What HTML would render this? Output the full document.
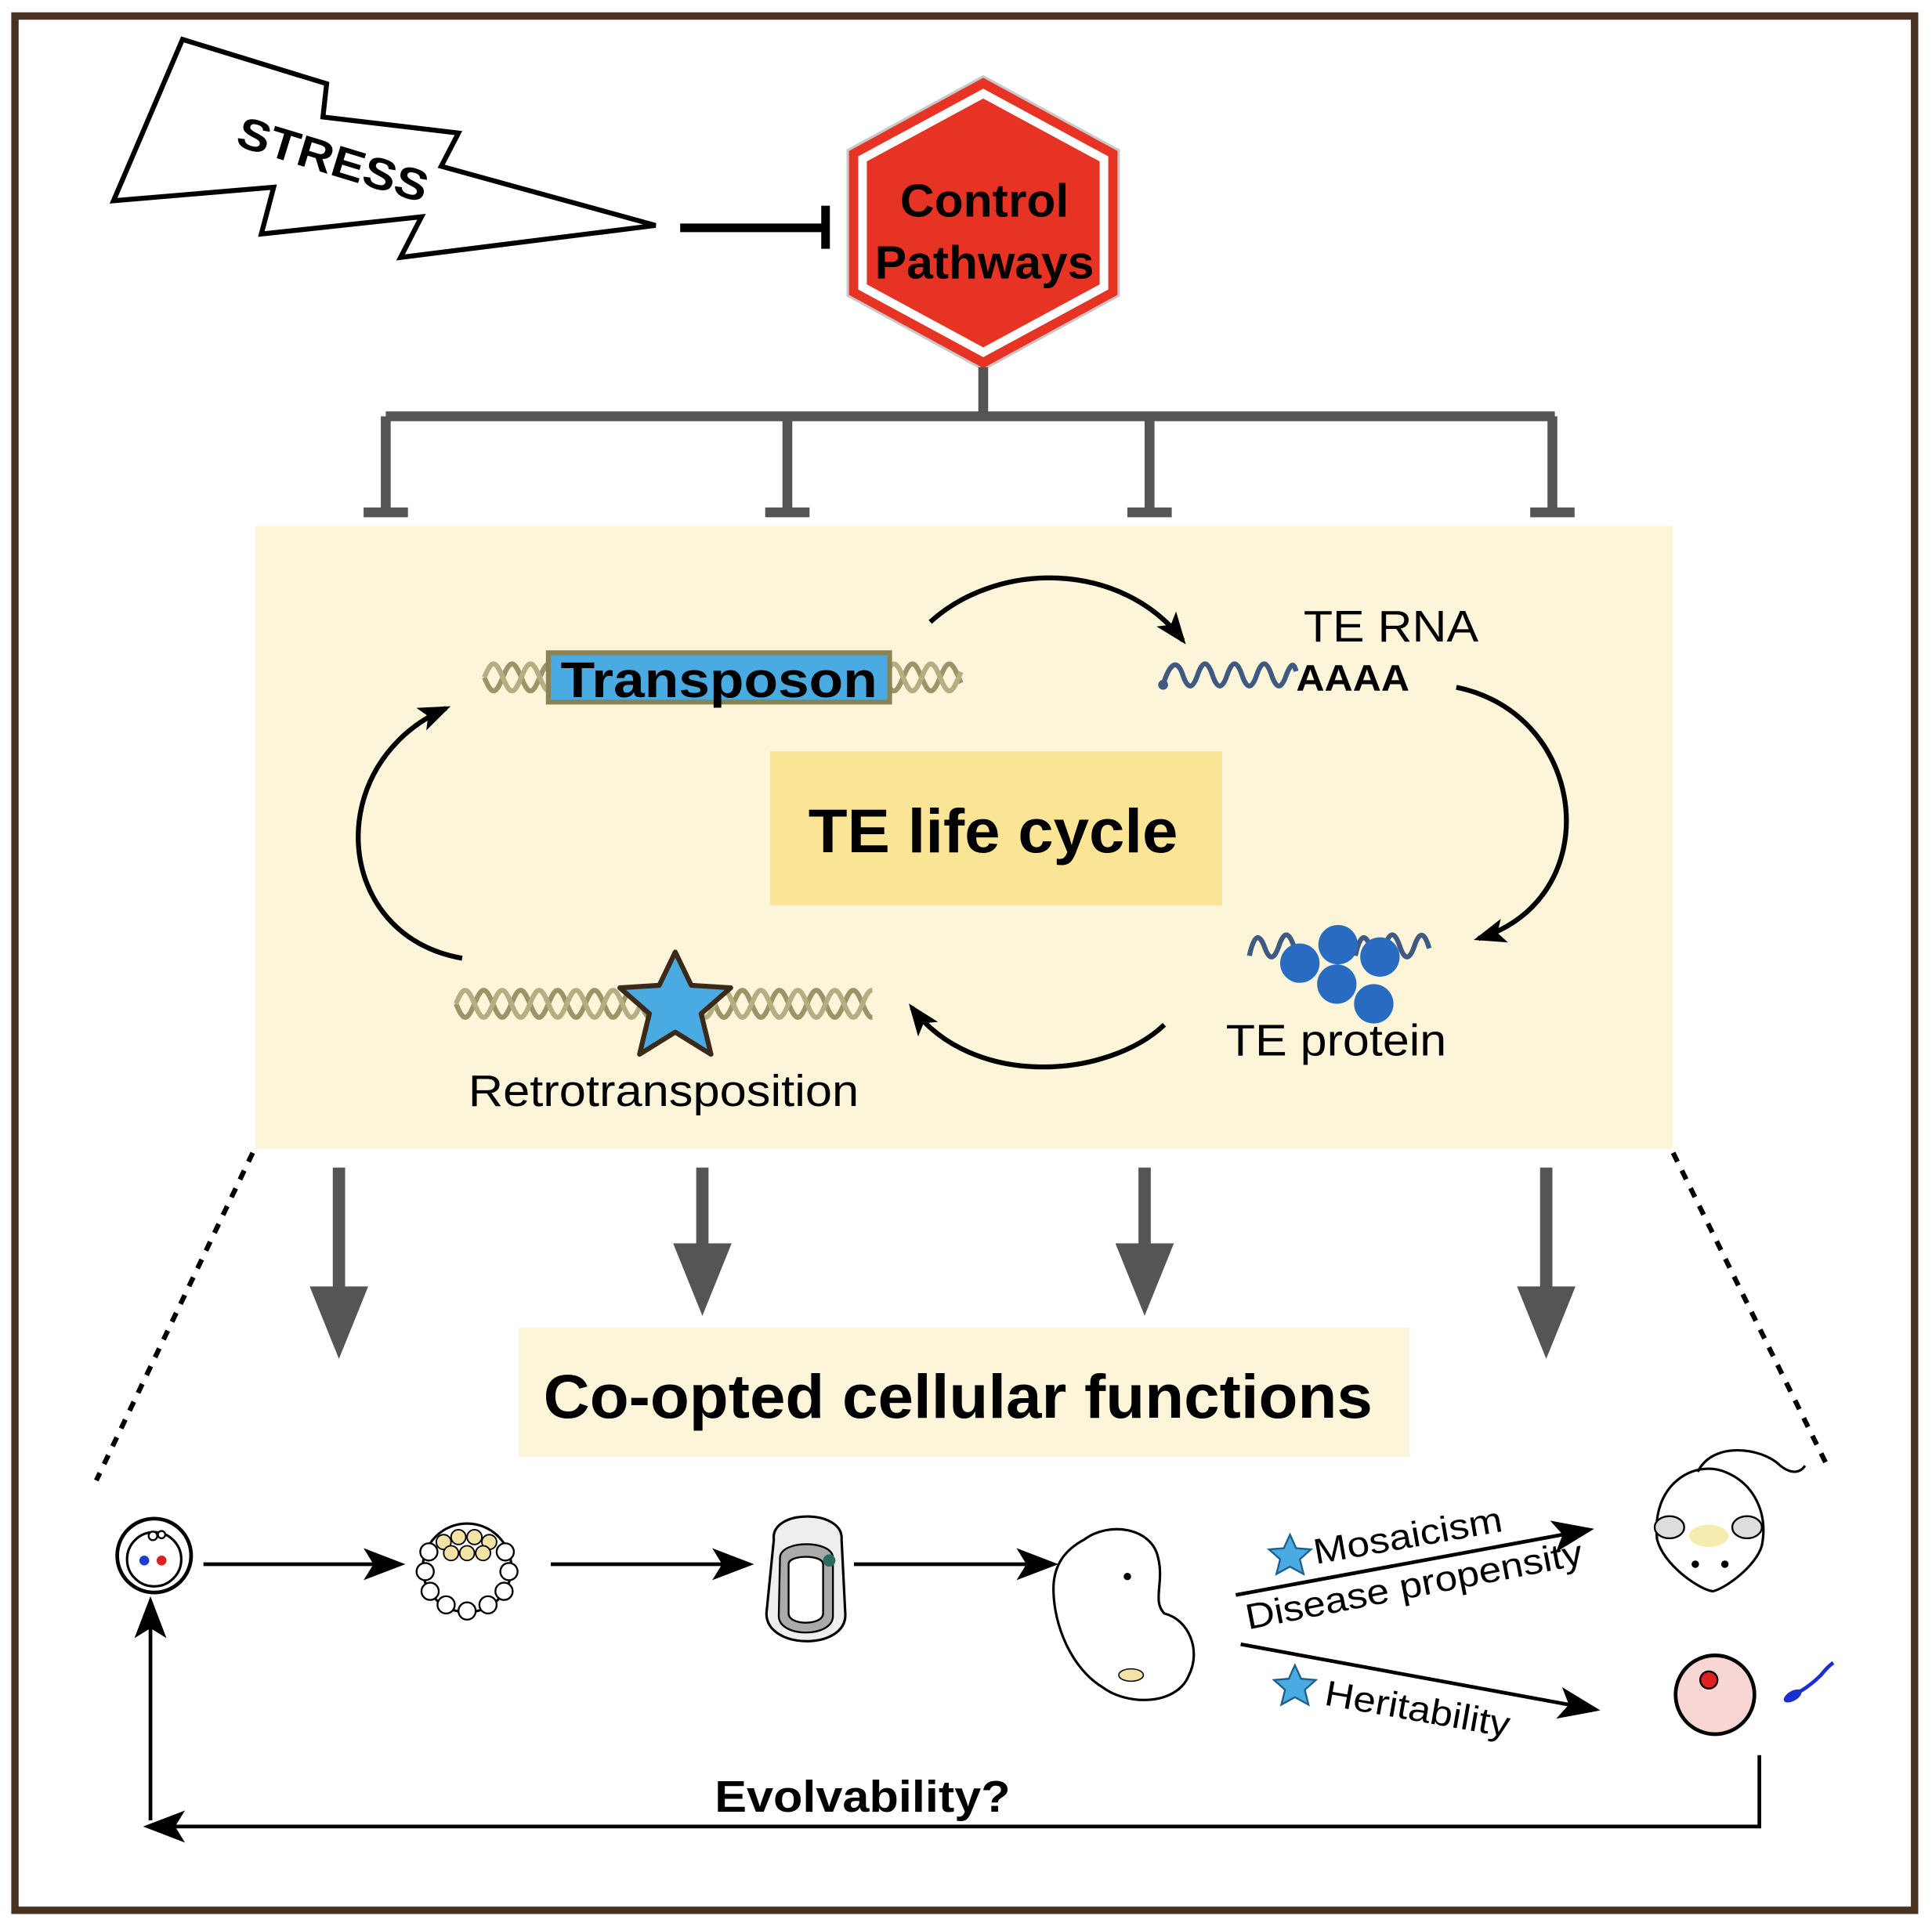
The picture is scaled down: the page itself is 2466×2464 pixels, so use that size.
<!DOCTYPE html>
<html><head><meta charset="utf-8"><style>
html,body{margin:0;padding:0;background:#fff}
svg{display:block}
text{font-family:"Liberation Sans",Arial,sans-serif}
</style></head><body>
<svg id="s" width="2466" height="2464" viewBox="0 0 1568 1567" xmlns="http://www.w3.org/2000/svg">
<defs>
<marker id="ahs" markerWidth="26" markerHeight="20" refX="22" refY="10" orient="auto" markerUnits="userSpaceOnUse"><path d="M0,0 L26,10 L0,20 L6,10 Z" fill="#000"/></marker>
<marker id="ahb" markerWidth="34" markerHeight="26" refX="30" refY="13" orient="auto" markerUnits="userSpaceOnUse"><path d="M0,0 L34,13 L0,26 L8,13 Z" fill="#000"/></marker>
</defs>
<rect width="1568" height="1567" fill="#fff"/>
<rect x="12" y="13" width="1542" height="1538" fill="#fff" stroke="#4a3222" stroke-width="6"/>

<!-- stress -->
<polygon points="148,32 265,68 262,95 372,108 358,135 532,183 325,209 342,176 212,190 222,152 92,163" fill="#fff" stroke="#000" stroke-width="4"/>
<text x="190" y="118" font-size="36" font-weight="bold" textLength="160" lengthAdjust="spacingAndGlyphs" transform="rotate(17 190 118)">STRESS</text>
<line x1="552" y1="185" x2="668" y2="185" stroke="#000" stroke-width="7"/>
<line x1="670" y1="167" x2="670" y2="202" stroke="#000" stroke-width="7"/>

<!-- hexagon -->
<polygon points="798,62 908,122 908,240 798,300 688,240 688,122" fill="#e63323" stroke="#c9c9c9" stroke-width="2"/>
<polygon points="798,76 896,129 896,233 798,286 700,233 700,129" fill="#e63323" stroke="#fff" stroke-width="7"/>
<text x="799" y="176" font-size="38" font-weight="bold" text-anchor="middle" textLength="137" lengthAdjust="spacingAndGlyphs">Control</text>
<text x="799" y="226" font-size="38" font-weight="bold" text-anchor="middle" textLength="178" lengthAdjust="spacingAndGlyphs">Pathways</text>

<!-- tree -->
<g stroke="#555" stroke-width="8" fill="none">
<line x1="798" y1="298" x2="798" y2="338"/>
<line x1="313" y1="338" x2="1262" y2="338"/>
<line x1="313" y1="338" x2="313" y2="415"/>
<line x1="639" y1="338" x2="639" y2="415"/>
<line x1="933" y1="338" x2="933" y2="415"/>
<line x1="1260" y1="338" x2="1260" y2="415"/>
<line x1="295" y1="416" x2="331" y2="416"/>
<line x1="621" y1="416" x2="657" y2="416"/>
<line x1="915" y1="416" x2="951" y2="416"/>
<line x1="1242" y1="416" x2="1278" y2="416"/>
</g>

<!-- life cycle box -->
<rect x="207" y="427" width="1151" height="506" fill="#fcf5d9"/>
<rect x="625" y="610" width="367" height="125" fill="#fae596"/>
<text x="806" y="692" font-size="50" font-weight="bold" text-anchor="middle" textLength="300" lengthAdjust="spacingAndGlyphs">TE life cycle</text>

<g fill="none" stroke="#000" stroke-width="4">
<path d="M755,505 C810,455 910,455 960,520" marker-end="url(#ahs)"/>
<path d="M1182,558 C1290,580 1305,730 1200,762" marker-end="url(#ahs)"/>
<path d="M945,832 C900,875 790,885 740,818" marker-end="url(#ahs)"/>
<path d="M375,778 C270,760 260,620 362,575" marker-end="url(#ahs)"/>
</g>

<g id="helices"></g>

<rect x="445" y="530" width="277" height="40" fill="#4aabe3" stroke="#8a8455" stroke-width="4"/>
<text x="455" y="566" font-size="41" font-weight="bold" textLength="257" lengthAdjust="spacingAndGlyphs">Transposon</text>

<text x="1058" y="521" font-size="36" textLength="142" lengthAdjust="spacingAndGlyphs">TE RNA</text>
<path d="M944,556 C950,536 956,536 960,548 C964,560 968,560 972,548 C976,536 980,536 984,548 C988,560 992,560 996,548 C1000,536 1004,536 1008,548 C1012,560 1016,560 1020,548 C1024,536 1028,536 1032,548 C1036,560 1040,560 1044,548 C1048,538 1050,538 1052,545" fill="none" stroke="#3e5a80" stroke-width="4"/>
<circle cx="944" cy="556" r="4" fill="#3e5a80"/>
<text x="1052" y="561" font-size="30" font-weight="bold" textLength="92" lengthAdjust="spacingAndGlyphs">AAAA</text>

<path d="M1014,776 C1018,758 1022,758 1026,768 C1030,780 1034,780 1038,768 C1042,756 1046,756 1050,768 M1100,776 C1104,758 1108,758 1112,768 C1116,780 1120,780 1124,768 C1128,756 1132,756 1136,768 C1140,780 1144,780 1148,768 C1152,756 1156,756 1160,770" fill="none" stroke="#3e5a80" stroke-width="4"/>
<g fill="#2a6bc2">
<circle cx="1055" cy="782" r="16"/><circle cx="1086" cy="767" r="16"/><circle cx="1120" cy="777" r="16"/><circle cx="1085" cy="799" r="16"/><circle cx="1115" cy="815" r="16"/>
</g>
<text x="995" y="857" font-size="36" textLength="179" lengthAdjust="spacingAndGlyphs">TE protein</text>

<polygon points="548,773 561,800 593,802 569,823 577,856 548,838 519,856 527,823 503,802 535,800" fill="#4aabe3" stroke="#3b2a1a" stroke-width="4" stroke-linejoin="round"/>
<text x="380" y="898" font-size="36" textLength="317" lengthAdjust="spacingAndGlyphs">Retrotransposition</text>

<g fill="#555" stroke="#555">
<line x1="275" y1="948" x2="275" y2="1050" stroke-width="10"/><polygon points="252,1045 298,1045 275,1102"/>
<line x1="570" y1="948" x2="570" y2="1015" stroke-width="10"/><polygon points="547,1010 593,1010 570,1067"/>
<line x1="929" y1="948" x2="929" y2="1015" stroke-width="10"/><polygon points="906,1010 952,1010 929,1067"/>
<line x1="1255" y1="948" x2="1255" y2="1050" stroke-width="10"/><polygon points="1232,1045 1278,1045 1255,1102"/>
</g>

<line x1="205" y1="936" x2="78" y2="1202" stroke="#000" stroke-width="4" stroke-dasharray="8,8"/>
<line x1="1358" y1="936" x2="1484" y2="1192" stroke="#000" stroke-width="4" stroke-dasharray="8,8"/>

<rect x="421" y="1078" width="723" height="105" fill="#fcf5d9"/>
<text x="441" y="1151" font-size="50" font-weight="bold" textLength="673" lengthAdjust="spacingAndGlyphs">Co-opted cellular functions</text>

<circle cx="125" cy="1263" r="30" fill="#fff" stroke="#000" stroke-width="3"/>
<circle cx="125" cy="1266" r="22" fill="#fff" stroke="#000" stroke-width="2"/>
<circle cx="117" cy="1267" r="4" fill="#1a3fd0"/><circle cx="131" cy="1267" r="4" fill="#e02020"/>
<circle cx="124" cy="1247" r="3.5" fill="#fff" stroke="#000" stroke-width="1.5"/><circle cx="131" cy="1246" r="3" fill="#fff" stroke="#000" stroke-width="1.5"/>
<line x1="165" y1="1270" x2="325" y2="1270" stroke="#000" stroke-width="3" marker-end="url(#ahb)"/>

<circle cx="379" cy="1273" r="36" fill="#fff" stroke="#000" stroke-width="2"/>
<g fill="#fff" stroke="#000" stroke-width="1.5">
<circle cx="379" cy="1308" r="7"/><circle cx="362" cy="1303" r="7"/><circle cx="396" cy="1303" r="7"/><circle cx="349" cy="1292" r="7"/><circle cx="409" cy="1292" r="7"/><circle cx="345" cy="1276" r="7"/><circle cx="413" cy="1276" r="7"/><circle cx="348" cy="1260" r="7"/><circle cx="410" cy="1260" r="7"/>
</g>
<g fill="#f3e3a6" stroke="#000" stroke-width="1.2">
<circle cx="360" cy="1252" r="6"/><circle cx="372" cy="1248" r="6"/><circle cx="385" cy="1248" r="6"/><circle cx="397" cy="1252" r="6"/><circle cx="366" cy="1261" r="6"/><circle cx="379" cy="1261" r="6"/><circle cx="392" cy="1261" r="6"/>
</g>
<line x1="447" y1="1270" x2="608" y2="1270" stroke="#000" stroke-width="3" marker-end="url(#ahb)"/>

<path d="M628,1250 C625,1225 685,1225 683,1250 L686,1310 C688,1340 622,1340 622,1310 Z" fill="#eee" stroke="#000" stroke-width="2"/>
<path d="M633,1265 C633,1250 676,1250 676,1265 L676,1312 C676,1330 632,1330 632,1312 Z" fill="#aaa" stroke="#000" stroke-width="1.5"/>
<path d="M640,1270 C640,1262 668,1262 668,1270 L668,1310 C668,1320 640,1320 640,1310 Z" fill="#fff" stroke="#000" stroke-width="1.5"/>
<circle cx="673" cy="1267" r="5" fill="#2c6b60"/>
<line x1="693" y1="1270" x2="855" y2="1270" stroke="#000" stroke-width="3" marker-end="url(#ahb)"/>

<path d="M880,1250 C900,1235 935,1240 940,1265 C945,1285 935,1300 945,1310 C965,1315 975,1340 965,1360 C955,1385 915,1385 895,1370 C870,1355 855,1320 855,1290 C855,1270 865,1258 880,1250 Z" fill="#fff" stroke="#000" stroke-width="2"/>
<ellipse cx="918" cy="1360" rx="10" ry="5" fill="#f3e3a6" stroke="#000" stroke-width="1"/>
<circle cx="915" cy="1280" r="3" fill="#000"/>

<line x1="1003" y1="1295" x2="1290" y2="1242" stroke="#000" stroke-width="3" marker-end="url(#ahb)"/>
<line x1="1007" y1="1335" x2="1295" y2="1388" stroke="#000" stroke-width="3" marker-end="url(#ahb)"/>
<polygon points="1047,1246 1052,1257 1064,1258 1055,1266 1058,1278 1047,1272 1036,1278 1039,1266 1030,1258 1042,1257" fill="#4aabe3" stroke="#1e5f8c" stroke-width="1.5"/>
<text x="1068" y="1270" font-size="29" textLength="155" lengthAdjust="spacingAndGlyphs" transform="rotate(-10 1068 1270)">Mosaicism</text>
<text x="1013" y="1323" font-size="29" textLength="278" lengthAdjust="spacingAndGlyphs" transform="rotate(-11 1013 1323)">Disease propensity</text>
<polygon points="1051,1352 1056,1363 1068,1364 1059,1372 1062,1384 1051,1378 1040,1384 1043,1372 1034,1364 1046,1363" fill="#4aabe3" stroke="#1e5f8c" stroke-width="1.5"/>
<text x="1074" y="1384" font-size="29" textLength="152" lengthAdjust="spacingAndGlyphs" transform="rotate(10 1074 1384)">Heritability</text>

<path d="M1345,1250 C1340,1205 1375,1185 1400,1195 C1425,1205 1435,1230 1430,1255 C1425,1272 1400,1290 1390,1292 C1378,1290 1350,1270 1345,1250 Z" fill="#fff" stroke="#000" stroke-width="2"/>
<ellipse cx="1355" cy="1240" rx="12" ry="9" fill="#ddd" stroke="#000" stroke-width="1.5"/>
<ellipse cx="1418" cy="1240" rx="12" ry="9" fill="#ddd" stroke="#000" stroke-width="1.5"/>
<ellipse cx="1387" cy="1247" rx="16" ry="9" fill="#f7ecaf"/>
<path d="M1378,1195 C1390,1170 1430,1175 1445,1190 C1455,1198 1462,1195 1465,1190" fill="none" stroke="#000" stroke-width="2"/>
<circle cx="1376" cy="1270" r="3" fill="#000"/><circle cx="1400" cy="1270" r="3" fill="#000"/>

<circle cx="1392" cy="1376" r="32" fill="#f7d6d4" stroke="#000" stroke-width="3"/>
<circle cx="1387" cy="1364" r="7" fill="#e02020" stroke="#000" stroke-width="1.5"/>
<path d="M1450,1378 C1460,1375 1470,1368 1478,1360 C1482,1355 1485,1352 1488,1350" fill="none" stroke="#1a2fd0" stroke-width="3"/>
<ellipse cx="1455" cy="1377" rx="8" ry="4" fill="#1a2fd0" transform="rotate(-30 1455 1377)"/>

<polyline points="1428,1425 1428,1483 120,1483" fill="none" stroke="#000" stroke-width="3" marker-end="url(#ahb)"/>
<line x1="122" y1="1478" x2="122" y2="1300" stroke="#000" stroke-width="3" marker-end="url(#ahb)"/>
<text x="580" y="1471" font-size="36" font-weight="bold" textLength="240" lengthAdjust="spacingAndGlyphs">Evolvability?</text>
</svg>
<script>
(function(){
var g=document.getElementById('helices'),NS='http://www.w3.org/2000/svg';
function helix(x0,x1,yc,amp,per){
  [0,Math.PI].forEach(function(ph,i){
    var d='';
    for(var x=x0;x<=x1;x+=1){var y=yc+amp*Math.sin((x-x0)/per*2*Math.PI+ph);d+=(x==x0?'M':'L')+x+','+y.toFixed(1);}
    var p=document.createElementNS(NS,'path');p.setAttribute('d',d);p.setAttribute('fill','none');
    p.setAttribute('stroke',i?'#b5ae82':'#9a9467');p.setAttribute('stroke-width','4');g.appendChild(p);
  });
}
helix(393,450,550,11,30);helix(718,780,550,11,30);helix(370,708,815,11,30);
})();
</script>
</body></html>
